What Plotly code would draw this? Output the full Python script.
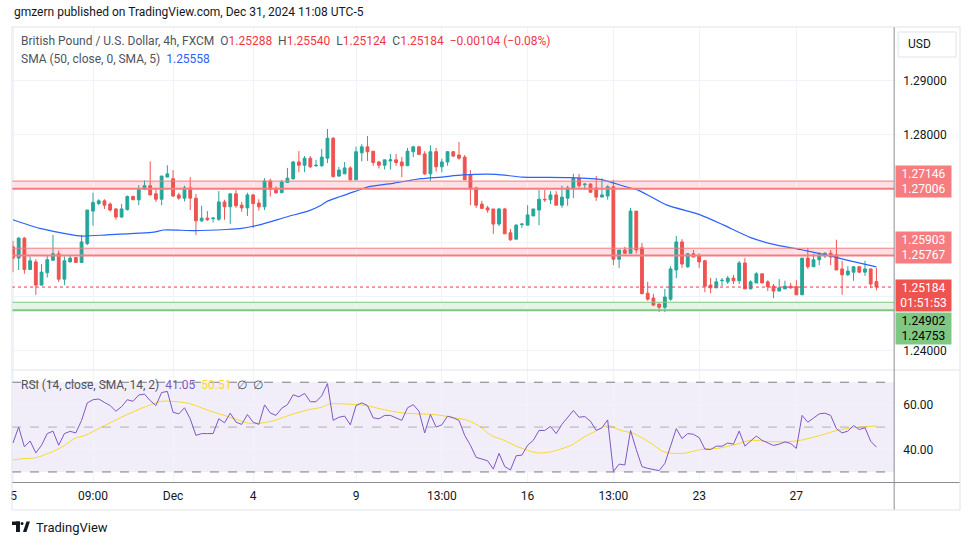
import plotly.graph_objects as go

W, H = 970, 545
def px(x): return x / W
def py(y): return 1 - y / H

# ---------------- data ----------------
opens = [1.2593,1.2572,1.2609,1.2551,1.2565,1.2522,1.2545,1.2568,1.2580,1.2533,
         1.2565,1.2573,1.2564,1.2599,1.2659,1.2673,1.2678,1.2672,1.2663,1.2648,
         1.2662,1.2686,1.2680,1.2699,1.2706,1.2691,1.2681,1.2722,1.2719,1.2689,
         1.2683,1.2702,1.2683,1.2641,1.2646,1.2645,1.2644,1.2676,1.2667,1.2691,
         1.2670,1.2665,1.2689,1.2674,1.2667,1.2715,1.2699,1.2693,1.2712,1.2719,
         1.2750,1.2744,1.2757,1.2743,1.2743,1.2757,1.2794,1.2724,1.2728,1.2739,
         1.2717,1.2767,1.2778,1.2770,1.2750,1.2744,1.2752,1.2754,1.2750,1.2743,
         1.2769,1.2778,1.2765,1.2728,1.2769,1.2741,1.2750,1.2769,1.2763,1.2759,
         1.2726,1.2702,1.2672,1.2665,1.2663,1.2635,1.2663,1.2619,1.2607,1.2634,
         1.2633,1.2650,1.2661,1.2681,1.2680,1.2689,1.2670,1.2683,1.2700,1.2720,
         1.2708,1.2709,1.2702,1.2685,1.2687,1.2704,1.2570,1.2587,1.2581,1.2659,
         1.2591,1.2507,1.2498,1.2487,1.2481,1.2496,1.2550,1.2602,1.2556,1.2580,
         1.2576,1.2567,1.2522,1.2517,1.2530,1.2528,1.2535,1.2530,1.2563,1.2515,
         1.2526,1.2543,1.2528,1.2520,1.2511,1.2515,1.2520,1.2519,1.2504,1.2572,
         1.2556,1.2569,1.2576,1.2581,1.2578,1.2552,1.2541,1.2546,1.2556,1.2546,
         1.2552,1.25288]
highs = [1.2604,1.2611,1.2611,1.2575,1.2570,1.2561,1.2576,1.2615,1.2586,1.2575,
         1.2578,1.2574,1.2615,1.2661,1.2693,1.2681,1.2681,1.2675,1.2665,1.2672,
         1.2688,1.2688,1.2707,1.2716,1.2751,1.2702,1.2724,1.2744,1.2735,1.2693,
         1.2706,1.2722,1.2691,1.2669,1.2659,1.2648,1.2696,1.2680,1.2691,1.2698,
         1.2676,1.2693,1.2691,1.2681,1.2720,1.2719,1.2705,1.2717,1.2739,1.2752,
         1.2770,1.2761,1.2761,1.2754,1.2774,1.2811,1.2796,1.2741,1.2750,1.2742,
         1.2778,1.2783,1.2798,1.2770,1.2752,1.2754,1.2765,1.2765,1.2759,1.2776,
         1.2780,1.2780,1.2770,1.2781,1.2776,1.2756,1.2770,1.2770,1.2787,1.2763,
         1.2735,1.2704,1.2678,1.2669,1.2663,1.2665,1.2665,1.2626,1.2635,1.2637,
         1.2670,1.2663,1.2698,1.2698,1.2696,1.2696,1.2706,1.2706,1.2728,1.2728,
         1.2711,1.2711,1.2724,1.2720,1.2707,1.2717,1.2587,1.2593,1.2665,1.2659,
         1.2600,1.2528,1.2506,1.2487,1.2515,1.2557,1.2613,1.2607,1.2581,1.2587,
         1.2581,1.2569,1.2535,1.2535,1.2535,1.2539,1.2541,1.2567,1.2572,1.2531,
         1.2546,1.2543,1.2531,1.2524,1.2533,1.2530,1.2526,1.2531,1.2572,1.2591,
         1.2580,1.2583,1.2583,1.2587,1.2606,1.2567,1.2557,1.2557,1.2557,1.2567,
         1.2552,1.25540]
lows = [1.2546,1.2550,1.2543,1.2551,1.2504,1.2522,1.2536,1.2568,1.2528,1.2522,
        1.2564,1.2563,1.2564,1.2596,1.2632,1.2670,1.2663,1.2658,1.2643,1.2647,
        1.2660,1.2680,1.2670,1.2698,1.2688,1.2676,1.2670,1.2722,1.2685,1.2680,
        1.2677,1.2661,1.2615,1.2639,1.2641,1.2638,1.2641,1.2643,1.2635,1.2665,
        1.2658,1.2650,1.2628,1.2660,1.2661,1.2686,1.2691,1.2693,1.2712,1.2717,
        1.2731,1.2731,1.2739,1.2741,1.2741,1.2748,1.2721,1.2722,1.2728,1.2715,
        1.2717,1.2751,1.2752,1.2743,1.2738,1.2736,1.2736,1.2743,1.2722,1.2743,
        1.2759,1.2764,1.2726,1.2715,1.2732,1.2731,1.2743,1.2759,1.2754,1.2717,
        1.2670,1.2665,1.2664,1.2656,1.2617,1.2631,1.2617,1.2604,1.2607,1.2628,
        1.2633,1.2650,1.2633,1.2676,1.2672,1.2670,1.2665,1.2669,1.2683,1.2702,
        1.2698,1.2693,1.2678,1.2685,1.2680,1.2559,1.2554,1.2580,1.2581,1.2581,
        1.2506,1.2493,1.2483,1.2472,1.2472,1.2493,1.2535,1.2554,1.2554,1.2574,
        1.2554,1.2509,1.2507,1.2517,1.2520,1.2524,1.2524,1.2524,1.2515,1.2515,
        1.2526,1.2526,1.2511,1.2498,1.2511,1.2515,1.2515,1.2504,1.2504,1.2552,
        1.2556,1.2559,1.2572,1.2559,1.2550,1.2504,1.2539,1.2530,1.2544,1.2539,
        1.2517,1.25124]
closes = [1.2572,1.2609,1.2551,1.2567,1.2522,1.2546,1.2569,1.2580,1.2533,1.2567,
          1.2572,1.2564,1.2602,1.2661,1.2675,1.2678,1.2670,1.2661,1.2648,1.2663,
          1.2686,1.2680,1.2699,1.2706,1.2689,1.2681,1.2724,1.2728,1.2687,1.2683,
          1.2702,1.2683,1.2641,1.2646,1.2643,1.2646,1.2676,1.2667,1.2691,1.2669,
          1.2665,1.2689,1.2673,1.2667,1.2715,1.2699,1.2693,1.2713,1.2720,1.2750,
          1.2744,1.2757,1.2741,1.2744,1.2759,1.2794,1.2723,1.2735,1.2739,1.2717,
          1.2769,1.2778,1.2769,1.2749,1.2744,1.2754,1.2754,1.2749,1.2743,1.2770,
          1.2778,1.2764,1.2728,1.2769,1.2741,1.2750,1.2769,1.2761,1.2757,1.2717,
          1.2700,1.2670,1.2664,1.2661,1.2635,1.2663,1.2617,1.2606,1.2633,1.2635,
          1.2652,1.2663,1.2681,1.2680,1.2689,1.2670,1.2685,1.2702,1.2720,1.2706,
          1.2709,1.2694,1.2685,1.2689,1.2704,1.2570,1.2587,1.2581,1.2659,1.2587,
          1.2506,1.2496,1.2485,1.2481,1.2500,1.2552,1.2602,1.2561,1.2580,1.2574,
          1.2565,1.2520,1.2517,1.2528,1.2531,1.2535,1.2530,1.2563,1.2515,1.2528,
          1.2543,1.2526,1.2519,1.2511,1.2517,1.2520,1.2517,1.2504,1.2572,1.2556,
          1.2569,1.2578,1.2581,1.2574,1.2550,1.2541,1.2548,1.2556,1.2546,1.2552,
          1.2524,1.25184]

sma_x = [0, 4.7, 11.7, 16.4, 24.6, 26.4, 31.6, 37.3, 40, 42.9, 48.1, 51.6, 53.9,
         55.1, 59.7, 62.1, 66.7, 71.4, 74.9, 78.7, 84.5, 89.1, 97.3, 103.1, 106.6,
         109.5, 111.5, 114.4, 120.2, 124.3, 129, 133.6, 137.7, 142.9, 146.4, 151]
sma_y = [1.2643, 1.2627, 1.2613, 1.2615, 1.2620, 1.2624, 1.2623, 1.2625, 1.2627,
         1.2633, 1.2649, 1.2659, 1.2670, 1.2678, 1.2695, 1.2704, 1.2711, 1.2719,
         1.2722, 1.2726, 1.2727, 1.2722, 1.2721, 1.2717, 1.2706, 1.2697, 1.2686,
         1.2670, 1.2652, 1.2633, 1.2610, 1.2596, 1.2588, 1.2576, 1.2567, 1.25558]

rsi = [42.9,50,41.2,43.8,38.5,41.9,47.1,48.2,41.9,47.1,
       48.1,47.4,53,60.8,62.2,62.5,61,59.6,57.1,59.1,
       62.2,61.5,64.3,64.7,61.8,59.6,65.4,65.9,56.6,55.9,
       58.6,53.7,46.3,47.1,47.1,47.1,53.7,51.9,56.2,52.2,
       51.2,55.6,52.2,51.2,59.9,56.3,55.2,58.4,60,64.4,
       63.5,65,61.3,61.3,64,69.4,53,54.4,54.9,51,
       59.6,60.8,59.6,54.1,53.7,55.2,55.2,54.1,53,58.6,
       60,57.1,47.4,55.6,50,51,54.9,54.1,53,46.3,
       41.9,36.5,35.6,35,31.3,38.3,32.4,30.9,37.2,37.5,
       41.9,44.1,48.5,48.5,50.3,47.1,51.2,54.1,57.4,54.4,
       54.7,52.6,48.5,49.7,53.2,30.2,33.5,33.1,48.5,40,
       32.4,31.6,31.2,30.6,33.8,41.9,49.3,44.9,47.1,46.8,
       45.3,40.2,40,41.5,41.5,42.9,42.4,48.2,41.5,43.8,
       46,44.1,42.9,41.8,42.4,43.4,42.7,40.5,55.2,52.2,
       54,55.9,56.2,55.2,49.3,47.4,48.2,50.7,48.9,49.7,
       43.7,41.05]

rsi_ma_x = [0, 1.6, 3.9, 6.2, 8.6, 10.9, 12.6, 15.5, 18.4, 21.3, 23.7, 26, 27.7,
            30.7, 34.2, 37.6, 41.1, 43.5, 45.8, 48.7, 51.6, 53.9, 55.4, 58, 61.5,
            65, 67.9, 70.8, 73.7, 76, 79.5, 81.8, 83.6, 85.9, 88.3, 91.7, 94.1,
            97.6, 99.9, 101.9, 104, 106.3, 108.6, 111.5, 113.8, 117.3, 120.2,
            123.2, 126.6, 129, 131.3, 134.8, 137.7, 141.2, 144.1, 147, 151]
rsi_ma_y = [35.3, 35.9, 36.3, 38.3, 41.2, 45.1, 46.3, 50, 53.7, 57.1, 59.6, 61.5,
            61.5, 60.6, 57.4, 54.7, 51.8, 51.8, 53, 55.6, 57.7, 58.8, 60.3, 60.3,
            59.7, 57.7, 56.4, 55.9, 55.6, 54.7, 53, 50, 46.3, 44.1, 41.2, 38.5, 39,
            41.9, 45.6, 48.2, 50.7, 48.5, 47.1, 42.9, 39, 38.3, 40, 40.5, 42.4,
            44.1, 43.7, 43.4, 44.1, 46.3, 48.5, 49.7, 50.51]

time_tick_pos = [0.1, 14, 28, 42, 60, 75, 90, 105, 120, 137]
time_tick_text = ["5", "09:00", "Dec", "4", "9", "13:00", "16", "13:00", "23", "27"]

price_ticks = [1.24, 1.25, 1.26, 1.27, 1.28, 1.29]
price_tick_text = ["1.24000", "", "", "", "1.28000", "1.29000"]
rsi_ticks = [40, 60]
rsi_tick_text = ["40.00", "60.00"]
rsi_upper, rsi_mid, rsi_lower = 70, 50, 30

red_zones = [(1.27006, 1.27146), (1.25767, 1.25903)]
green_zones = [(1.24753, 1.24902)]
countdown = "01:51:53"

assert len(opens) == len(highs) == len(lows) == len(closes) == len(rsi)

# ---------------- styles ----------------
UP = "#26a69a"
DN = "#ef5350"
FONT = "Roboto"
TXT = "#131722"
GRID = "#f0f3fa"
ZONE_RED_LINE = "#f77c80"
ZONE_RED_FILL = "rgba(242,54,69,0.15)"
ZONE_GRN_LINE = "#81c784"
ZONE_GRN_FILL = "rgba(76,175,80,0.14)"

idx = list(range(len(closes)))
xr = [-0.17, 154.1]

fig = go.Figure()

fig.add_trace(go.Candlestick(
    x=idx, open=opens, high=highs, low=lows, close=closes,
    increasing=dict(line=dict(color=UP, width=1), fillcolor=UP),
    decreasing=dict(line=dict(color=DN, width=1), fillcolor=DN),
    whiskerwidth=0, xaxis="x", yaxis="y", showlegend=False, hoverinfo="skip"))

fig.add_trace(go.Scatter(x=sma_x, y=sma_y, mode="lines",
                         line=dict(color="#2962ff", width=1.2, shape="spline", smoothing=0.6),
                         xaxis="x", yaxis="y", showlegend=False, hoverinfo="skip"))

fig.add_trace(go.Scatter(x=rsi_ma_x, y=rsi_ma_y, mode="lines",
                         line=dict(color="#f7d92c", width=1, shape="spline", smoothing=0.8),
                         xaxis="x2", yaxis="y2", showlegend=False, hoverinfo="skip"))
fig.add_trace(go.Scatter(x=idx, y=rsi, mode="lines",
                         line=dict(color="#7e57c2", width=1),
                         xaxis="x2", yaxis="y2", showlegend=False, hoverinfo="skip"))

shapes = []
for lo, hi in red_zones:
    shapes.append(dict(type="rect", xref="x domain", yref="y", x0=0, x1=1, y0=lo, y1=hi,
                       fillcolor=ZONE_RED_FILL, line=dict(width=0), layer="below"))
    shapes.append(dict(type="line", xref="x domain", yref="y", x0=0, x1=1, y0=hi, y1=hi,
                       line=dict(color=ZONE_RED_LINE, width=1)))
    shapes.append(dict(type="line", xref="x domain", yref="y", x0=0, x1=1, y0=lo, y1=lo,
                       line=dict(color=ZONE_RED_LINE, width=2)))
for lo, hi in green_zones:
    shapes.append(dict(type="rect", xref="x domain", yref="y", x0=0, x1=1, y0=lo, y1=hi,
                       fillcolor=ZONE_GRN_FILL, line=dict(width=0), layer="below"))
    shapes.append(dict(type="line", xref="x domain", yref="y", x0=0, x1=1, y0=hi, y1=hi,
                       line=dict(color=ZONE_GRN_LINE, width=1)))
    shapes.append(dict(type="line", xref="x domain", yref="y", x0=0, x1=1, y0=lo, y1=lo,
                       line=dict(color=ZONE_GRN_LINE, width=2)))
shapes.append(dict(type="line", xref="x domain", yref="y", x0=0, x1=1,
                   y0=closes[-1], y1=closes[-1], line=dict(color="#f23645", width=1, dash="dot")))
shapes.append(dict(type="rect", xref="x2 domain", yref="y2", x0=0, x1=1, y0=rsi_lower, y1=rsi_upper,
                   fillcolor="rgba(126,87,194,0.10)", line=dict(width=0), layer="below"))
for lv, col in [(rsi_upper, "#787b86"), (rsi_lower, "#787b86"), (rsi_mid, "rgba(120,123,134,0.55)")]:
    shapes.append(dict(type="line", xref="x2 domain", yref="y2", x0=0, x1=1, y0=lv, y1=lv,
                       line=dict(color=col, width=1, dash="dash")))
shapes.append(dict(type="line", xref="paper", yref="paper", x0=px(10), x1=px(960), y0=py(370), y1=py(370),
                   line=dict(color="#e0e3eb", width=1)))
shapes.append(dict(type="line", xref="paper", yref="paper", x0=px(10), x1=px(960), y0=py(482.5), y1=py(482.5),
                   line=dict(color="#8a8d96", width=1)))
shapes.append(dict(type="line", xref="paper", yref="paper", x0=px(894), x1=px(894), y0=py(27), y1=py(510),
                   line=dict(color="#8a8d96", width=1)))
shapes.append(dict(type="rect", xref="paper", yref="paper", x0=px(10), x1=px(960), y0=py(510), y1=py(27),
                   line=dict(color="#e0e3eb", width=1)))
shapes.append(dict(type="rect", xref="paper", yref="paper", x0=px(898), x1=px(956), y0=py(57), y1=py(32),
                   line=dict(color="#e0e3eb", width=1), fillcolor="white"))
# TradingView logo
shapes.append(dict(type="rect", xref="paper", yref="paper", x0=px(10), x1=px(18), y0=py(525), y1=py(521.5),
                   fillcolor=TXT, line=dict(width=0)))
shapes.append(dict(type="rect", xref="paper", yref="paper", x0=px(14), x1=px(18), y0=py(532), y1=py(521.5),
                   fillcolor=TXT, line=dict(width=0)))
shapes.append(dict(type="circle", xref="paper", yref="paper", x0=px(18.6), x1=px(21.6), y0=py(525), y1=py(522),
                   fillcolor=TXT, line=dict(width=0)))
shapes.append(dict(type="path", xref="paper", yref="paper",
                   path=f"M {px(21)} {py(532)} L {px(24.5)} {py(521.5)} L {px(28)} {py(521.5)} L {px(24.5)} {py(532)} Z",
                   fillcolor=TXT, line=dict(width=0)))

ann = []
def text(x, y, s, size=12, color=TXT, xanchor="left", **kw):
    ann.append(dict(xref="paper", yref="paper", x=px(x), y=py(y), text=s, showarrow=False,
                    xanchor=xanchor, yanchor="middle", font=dict(family=FONT, size=size, color=color), **kw))

text(10, 12, "gmzern published on TradingView.com, Dec 31, 2024 11:08 UTC-5", size=12)
RED = "#f23645"
chg = closes[-1] - opens[-1]
pct = chg / opens[-1] * 100
def sp(s, c): return f"<span style='color:{c}'>{s}</span>"
legend1 = ("British Pound / U.S. Dollar, 4h, FXCM  "
           f"O{sp(f'{opens[-1]:.5f}', RED)}  H{sp(f'{highs[-1]:.5f}', RED)}  "
           f"L{sp(f'{lows[-1]:.5f}', RED)}  C{sp(f'{closes[-1]:.5f}', RED)}  "
           + sp(f"{chg:+.5f} ({pct:+.2f}%)".replace("-", "−"), RED))
text(17, 41, legend1, size=12, color="#50535e")
text(17, 59, "SMA (50, close, 0, SMA, 5)  " + sp(f"{sma_y[-1]:.5f}", "#2962ff"), size=12, color="#50535e")
text(17, 385, "RSI (14, close, SMA, 14, 2)  " + sp(f"{rsi[-1]:.2f}", "#7e57c2") + "  "
     + sp(f"{rsi_ma_y[-1]:.2f}", "#f7d92c") + "  ∅  ∅", size=12, color="#50535e")
text(906, 44.5, "USD", size=12)
text(32, 527, "TradingView", size=13)

def price_box(y, s, bg, fg, yanchor, yshift):
    ann.append(dict(xref="paper", yref="y", x=px(895), y=y, text=s, showarrow=False,
                    xanchor="left", yanchor=yanchor, yshift=yshift, align="center",
                    width=53, height=29, borderpad=1, bgcolor=bg,
                    font=dict(family=FONT, size=12, color=fg)))

(z1lo, z1hi), (z2lo, z2hi) = red_zones
price_box((z1lo + z1hi) / 2, f"{z1hi:.5f}<br>{z1lo:.5f}", ZONE_RED_LINE, "white", "middle", 3)
price_box((z2lo + z2hi) / 2, f"{z2hi:.5f}<br>{z2lo:.5f}", ZONE_RED_LINE, "white", "middle", 4)
price_box(closes[-1], f"{closes[-1]:.5f}<br>{countdown}", "#ef5350", "white", "top", 8)
glo, ghi = green_zones[0]
price_box(ghi, f"{ghi:.5f}<br>{glo:.5f}", ZONE_GRN_LINE, "black", "top", -10)

fig.update_layout(
    width=W, height=H, margin=dict(l=0, r=0, t=0, b=0),
    paper_bgcolor="white", plot_bgcolor="white",
    font=dict(family=FONT, size=12, color=TXT),
    showlegend=False, hovermode=False,
    shapes=shapes, annotations=ann,
    xaxis=dict(domain=[px(10), px(894)], range=xr, anchor="y", tickmode="array",
               tickvals=time_tick_pos, ticktext=time_tick_text, showticklabels=False,
               showgrid=True, gridcolor=GRID, zeroline=False, rangeslider=dict(visible=False),
               showline=False, ticks=""),
    yaxis=dict(domain=[py(370), py(28)], range=[1.23648, 1.29981], anchor="x", side="right",
               tickmode="array", tickvals=price_ticks, ticktext=price_tick_text,
               showgrid=True, gridcolor=GRID, zeroline=False, ticks="", showline=False,
               tickfont=dict(size=12, color=TXT), ticklabelstandoff=8),
    xaxis2=dict(domain=[px(10), px(894)], range=xr, anchor="y2", matches="x", tickmode="array",
                tickvals=time_tick_pos, ticktext=time_tick_text, showgrid=True, gridcolor=GRID,
                zeroline=False, ticks="", showline=False, tickfont=dict(size=12, color=TXT),
                ticklabelstandoff=4),
    yaxis2=dict(domain=[py(482.5), py(371)], range=[25.3, 75], anchor="x2", side="right",
                tickmode="array", tickvals=rsi_ticks, ticktext=rsi_tick_text,
                showgrid=True, gridcolor=GRID, zeroline=False, ticks="", showline=False,
                tickfont=dict(size=12, color=TXT), ticklabelstandoff=8),
)

# remove the default 8px page margin so the figure sits at the window's top-left corner
fig.write_html("out.html", config={"displayModeBar": False, "staticPlot": True},
               post_script="document.body.style.margin='0';")
